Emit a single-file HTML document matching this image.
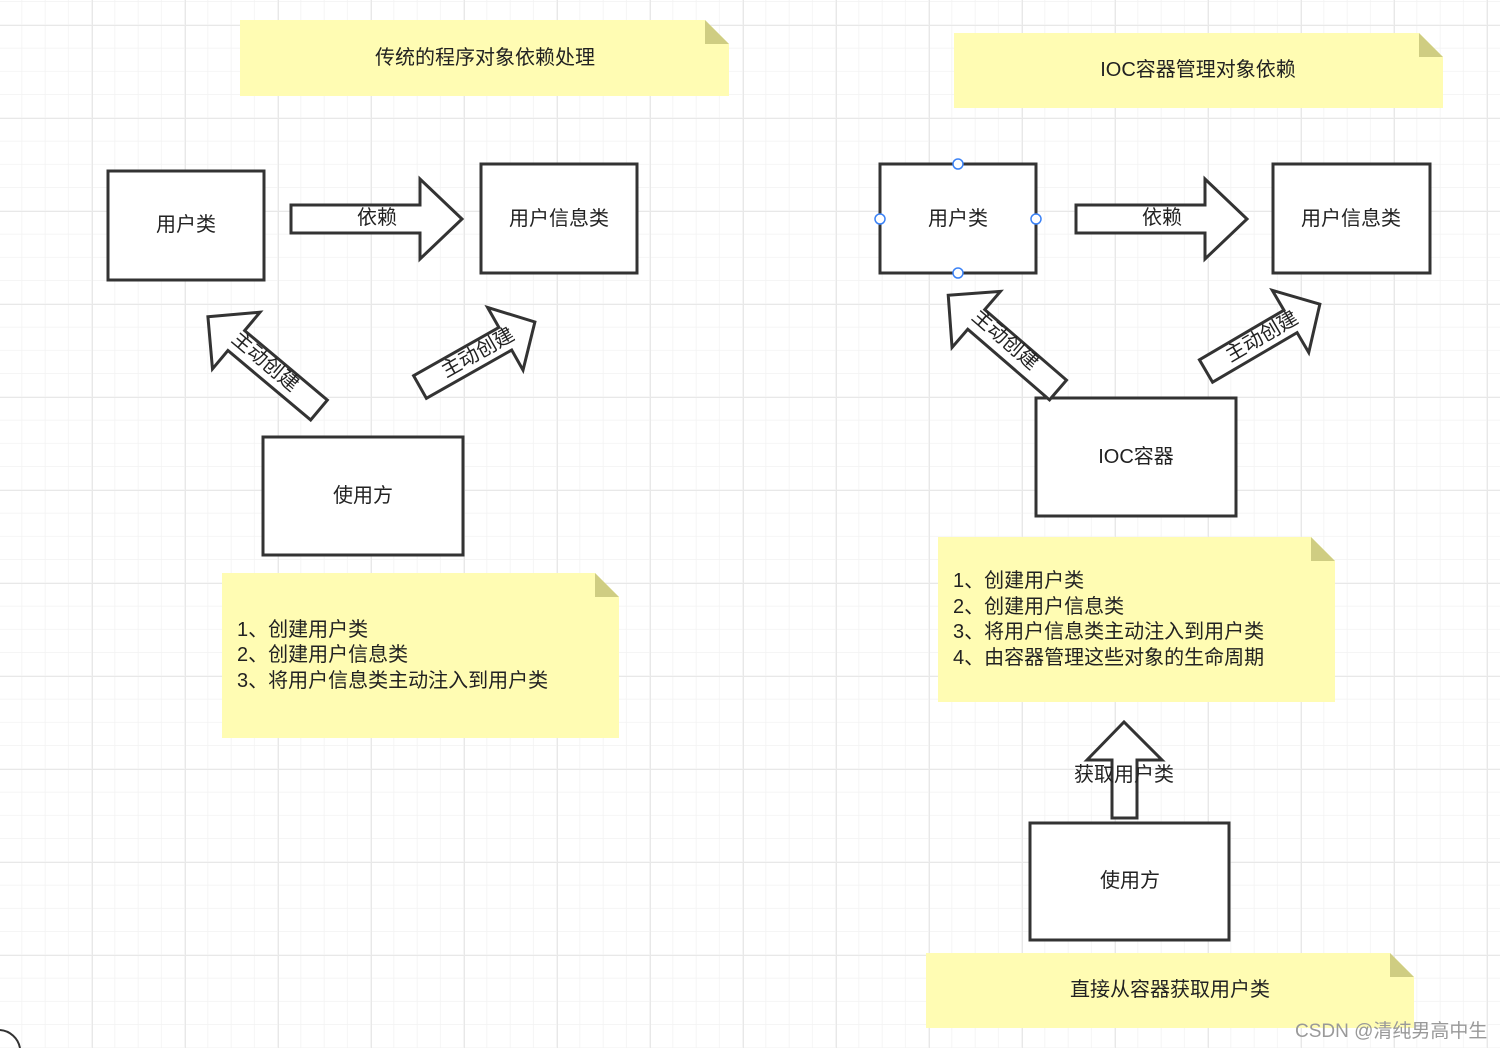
<!DOCTYPE html>
<html><head><meta charset="utf-8"><style>
html,body{margin:0;padding:0;background:#fff}
svg text{font-family:"Liberation Sans","Noto Sans CJK SC",sans-serif;fill:#222}
</style></head><body>
<svg width="1500" height="1048" viewBox="0 0 1500 1048" xmlns="http://www.w3.org/2000/svg">
<defs>
<pattern id="minor" x="-1" y="2" width="23.25" height="23.25" patternUnits="userSpaceOnUse">
<path d="M23.25 0V23.25M0 23.25H23.25" stroke="#f2f2f2" stroke-width="1.5" fill="none"/>
</pattern>
<pattern id="major" x="-1" y="25" width="93" height="93" patternUnits="userSpaceOnUse">
<path d="M0 0V93M0 0H93" stroke="#e8e8e8" stroke-width="2" fill="none"/>
</pattern>
</defs>
<rect width="1500" height="1048" fill="url(#minor)"/>
<rect width="1500" height="1048" fill="url(#major)"/>

<g fill="#fffcb3">
<polygon points="240,20 705,20 729,44 729,96 240,96"/>
<polygon points="954,33 1419,33 1443,57 1443,108 954,108"/>
<polygon points="222,573 595,573 619,597 619,738 222,738"/>
<polygon points="938,537 1311,537 1335,561 1335,702 938,702"/>
<polygon points="926,953 1390,953 1414,977 1414,1028 926,1028"/>
</g>
<g fill="#cfcd82">
<polygon points="705,20 729,44 705,44"/>
<polygon points="1419,33 1443,57 1419,57"/>
<polygon points="595,573 619,597 595,597"/>
<polygon points="1311,537 1335,561 1311,561"/>
<polygon points="1390,953 1414,977 1390,977"/>
</g>

<g fill="#fff" stroke="#333" stroke-width="3">
<rect x="108" y="171" width="156" height="109"/>
<rect x="481" y="164" width="156" height="109"/>
<rect x="263" y="437" width="200" height="118"/>
<rect x="880" y="164" width="156" height="109"/>
<rect x="1273" y="164" width="157" height="109"/>
<rect x="1036" y="398" width="200" height="118"/>
<rect x="1030" y="823" width="199" height="117"/>

<polygon transform="translate(291,219)" points="0,-14 129,-14 129,-40 171,0 129,40 129,14 0,14"/>
<polygon transform="translate(1076,219)" points="0,-14 129,-14 129,-40 171,0 129,40 129,14 0,14"/>
<polygon transform="translate(319,410) rotate(220)" points="0,-13 108,-13 108,-37 145,0 108,37 108,13 0,13"/>
<polygon transform="translate(420,387) rotate(-29.5)" points="0,-13 98,-13 98,-36 132,0 98,36 98,13 0,13"/>
<polygon transform="translate(1058,390) rotate(220.8)" points="0,-13 108,-13 108,-37 145,0 108,37 108,13 0,13"/>
<polygon transform="translate(1206,371) rotate(-30.4)" points="0,-13 98,-13 98,-36 132,0 98,36 98,13 0,13"/>
<polygon points="1112,818 1112,760 1087,760 1124,722 1162,760 1137,760 1137,818"/>
</g>

<g fill="#fff" stroke="#3b82f6" stroke-width="1.5">
<circle cx="958" cy="164" r="5"/><circle cx="958" cy="273" r="5"/>
<circle cx="880" cy="219" r="5"/><circle cx="1036" cy="219" r="5"/>
</g>

<g font-size="20" text-anchor="middle" dominant-baseline="central">
<text x="485" y="58">传统的程序对象依赖处理</text>
<text x="1198" y="70">IOC容器管理对象依赖</text>
<text x="186" y="225">用户类</text>
<text x="559" y="219">用户信息类</text>
<text x="363" y="496">使用方</text>
<text x="958" y="219">用户类</text>
<text x="1351" y="219">用户信息类</text>
<text x="1136" y="457">IOC容器</text>
<text x="1130" y="881">使用方</text>
<text x="1170" y="990">直接从容器获取用户类</text>
<text x="377" y="218">依赖</text>
<text x="1162" y="218">依赖</text>
<text x="1124" y="775">获取用户类</text>
<text transform="translate(265,362) rotate(40)">主动创建</text>
<text transform="translate(478,353) rotate(-29.5)">主动创建</text>
<text transform="translate(1005,340) rotate(40.8)">主动创建</text>
<text transform="translate(1262,337) rotate(-30.4)">主动创建</text>
</g>
<g font-size="20">
<text x="237" y="636">1、创建用户类</text>
<text x="237" y="661">2、创建用户信息类</text>
<text x="237" y="687">3、将用户信息类主动注入到用户类</text>
<text x="953" y="587">1、创建用户类</text>
<text x="953" y="613">2、创建用户信息类</text>
<text x="953" y="638">3、将用户信息类主动注入到用户类</text>
<text x="953" y="664">4、由容器管理这些对象的生命周期</text>
</g>
<text x="1295" y="1037" font-size="19" style="fill:#999">CSDN @清纯男高中生</text>
<path d="M0 1030 A22 22 0 0 1 20 1048" fill="none" stroke="#333" stroke-width="2"/>
</svg>
</body></html>
